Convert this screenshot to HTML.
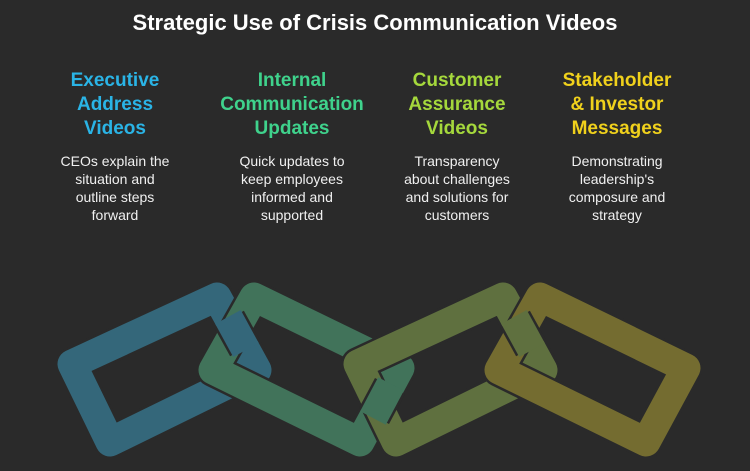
<!DOCTYPE html>
<html><head><meta charset="utf-8"><style>
html,body{margin:0;padding:0}
body{width:750px;height:471px;background:#2a2a2a;position:relative;overflow:hidden;font-family:"Liberation Sans",sans-serif}
.t{position:absolute;top:10px;left:0;width:750px;text-align:center;color:#fff;font-weight:bold;font-size:22px}
.c{position:absolute;top:69px;width:170px;text-align:center}
.h{font-weight:bold;font-size:19px;line-height:24px}
.b{color:#f0f0f0;font-size:14px;line-height:18px;margin-top:11px}
</style></head><body>
<div class="t">Strategic Use of Crisis Communication Videos</div>
<div class="c" style="left:30px"><div class="h" style="color:#2ab4e6">Executive<br>Address<br>Videos</div><div class="b">CEOs explain the<br>situation and<br>outline steps<br>forward</div></div>
<div class="c" style="left:207px"><div class="h" style="color:#3fd28c">Internal<br>Communication<br>Updates</div><div class="b">Quick updates to<br>keep employees<br>informed and<br>supported</div></div>
<div class="c" style="left:372px"><div class="h" style="color:#a5d83c">Customer<br>Assurance<br>Videos</div><div class="b">Transparency<br>about challenges<br>and solutions for<br>customers</div></div>
<div class="c" style="left:532px"><div class="h" style="color:#f0d11c">Stakeholder<br>&amp; Investor<br>Messages</div><div class="b">Demonstrating<br>leadership's<br>composure and<br>strategy</div></div>
<svg width="750" height="471" style="position:absolute;left:0;top:0" fill="none" stroke-linejoin="round" stroke-linecap="round">
<polygon points="217,297 257,370 110,442 72,364" stroke="#2a2a2a" stroke-width="34"/>
<polygon points="217,297 257,370 110,442 72,364" stroke="#34677a" stroke-width="29"/>
<polygon points="254,297 400,368 360,442 213,370" stroke="#2a2a2a" stroke-width="34"/>
<polygon points="254,297 400,368 360,442 213,370" stroke="#41735a" stroke-width="29"/>
<line x1="229" y1="319" x2="245" y2="348" stroke="#2a2a2a" stroke-width="34" stroke-linecap="butt"/>
<line x1="228" y1="317" x2="246" y2="350" stroke="#34677a" stroke-width="29" stroke-linecap="butt"/>
<polygon points="503,297 543,370 396,442 358,364" stroke="#2a2a2a" stroke-width="34"/>
<polygon points="503,297 543,370 396,442 358,364" stroke="#5f703f" stroke-width="29"/>
<line x1="390" y1="386" x2="374" y2="416" stroke="#2a2a2a" stroke-width="34" stroke-linecap="butt"/>
<line x1="391" y1="384" x2="373" y2="418" stroke="#41735a" stroke-width="29" stroke-linecap="butt"/>
<polygon points="540,297 686,368 646,442 499,370" stroke="#2a2a2a" stroke-width="34"/>
<polygon points="540,297 686,368 646,442 499,370" stroke="#746c30" stroke-width="29"/>
<line x1="515" y1="319" x2="531" y2="348" stroke="#2a2a2a" stroke-width="34" stroke-linecap="butt"/>
<line x1="514" y1="317" x2="532" y2="350" stroke="#5f703f" stroke-width="29" stroke-linecap="butt"/>
</svg>
</body></html>
